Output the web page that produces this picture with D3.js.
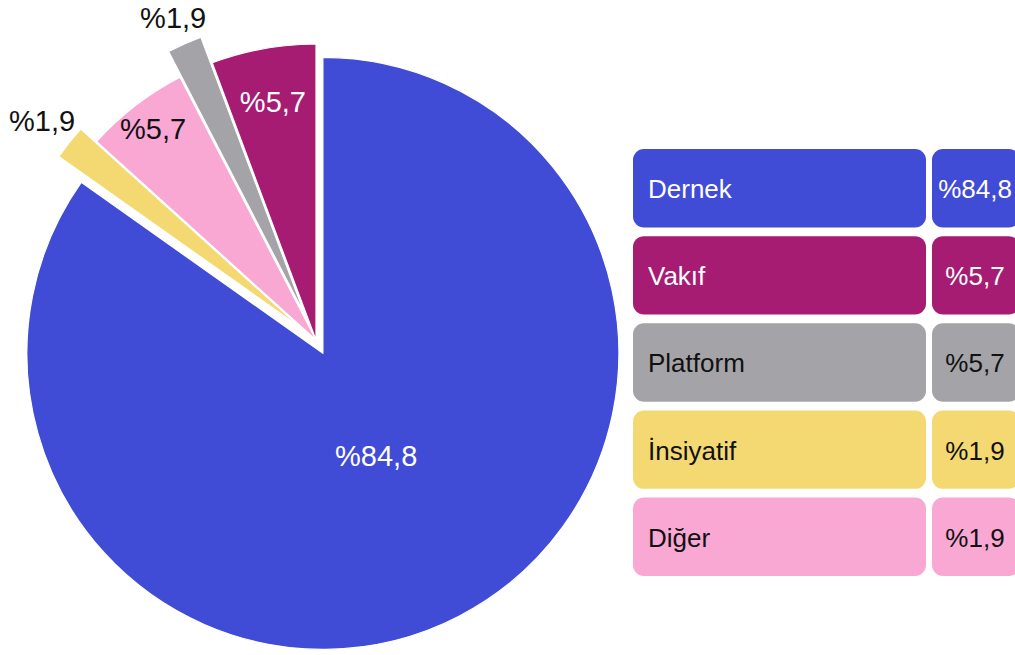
<!DOCTYPE html>
<html>
<head>
<meta charset="utf-8">
<script src="https://cdn.jsdelivr.net/npm/d3@7"></script>
<style>
  body { margin: 0; background: #fff; }
  svg { display: block; font-family: 'Liberation Sans', Arial, Helvetica, sans-serif; }
</style>
</head>
<body>
<svg width="1015" height="655"></svg>
<script>

// legend rows (top to bottom)
const categories = ['Dernek', 'Vakıf', 'Platform', 'İnsiyatif', 'Diğer']
const legendValues = ['%84,8', '%5,7', '%5,7', '%1,9', '%1,9']
const colors = ['#404bd6', '#a61c73', '#a4a4a8', '#f4d972', '#f9a8d4']
const darkText = ['#fff', '#fff', '#111', '#111', '#111']

// pie slices, clockwise from 12 o'clock
const sliceNames = ['Dernek', 'İnsiyatif', 'Diğer', 'Platform', 'Vakıf']
const sliceValues = [84.8, 1.9, 5.7, 1.9, 5.7]
const sliceLabels = ['%84,8', '%1,9', '%5,7', '%1,9', '%5,7']

// layout stuff
const center = [316, 340]
const radius = 296
const explode = { 'Dernek': 15, 'İnsiyatif': 20, 'Diğer': 0, 'Platform': 28, 'Vakıf': 0 }
const labelRadius = { 'Dernek': 116, 'İnsiyatif': 331, 'Diğer': 267, 'Platform': 324, 'Vakıf': 242 }

let svg = d3.select('svg')

let color = d3.scaleOrdinal().domain(categories).range(colors)
let textColor = d3.scaleOrdinal().domain(categories).range(darkText)

let pie = d3.pie().sort(null).value(d => d.value)
let arc = d3.arc().innerRadius(0).outerRadius(radius)

let slices = pie(sliceNames.map((n, i) => ({ name: n, value: sliceValues[i], label: sliceLabels[i] })))

function dir(d) {
  let a = (d.startAngle + d.endAngle) / 2
  return [Math.sin(a), -Math.cos(a)]
}

let g = svg.append('g').attr('transform', `translate(${center[0]},${center[1]})`)

let slice = g.selectAll('g.slice')
  .data(slices)
  .enter().append('g')
  .attr('class', 'slice')
  .attr('transform', d => {
    let [x, y] = dir(d)
    let e = explode[d.data.name]
    return `translate(${x * e},${y * e})`
  })

slice.append('path')
  .attr('d', arc)
  .attr('fill', d => color(d.data.name))
  .attr('stroke', '#fff')
  .attr('stroke-width', 1.2)
  .attr('stroke-linejoin', 'round')

slice.append('text')
  .attr('x', d => dir(d)[0] * labelRadius[d.data.name])
  .attr('y', d => dir(d)[1] * labelRadius[d.data.name])
  .attr('dy', '0.35em')
  .attr('text-anchor', 'middle')
  .attr('font-size', 29)
  .attr('fill', d => {
    let r = labelRadius[d.data.name]
    if (r > radius) return '#111'
    return textColor(d.data.name)
  })
  .text(d => d.data.label)

// legend
let rowY = d3.scaleBand().domain(categories).range([149, 576]).paddingInner(0.1)

let row = svg.append('g')
  .selectAll('g')
  .data(categories)
  .enter().append('g')
  .attr('transform', d => `translate(0,${rowY(d)})`)

row.append('rect')
  .attr('x', 633).attr('width', 293)
  .attr('height', rowY.bandwidth())
  .attr('rx', 11)
  .attr('fill', d => color(d))

row.append('rect')
  .attr('x', 932).attr('width', 88)
  .attr('height', rowY.bandwidth())
  .attr('rx', 11)
  .attr('fill', d => color(d))

row.append('text')
  .attr('x', 648)
  .attr('y', rowY.bandwidth() / 2 + 10)
  .attr('font-size', 26)
  .attr('fill', d => textColor(d))
  .text(d => d)

row.append('text')
  .attr('x', 975)
  .attr('y', rowY.bandwidth() / 2 + 10)
  .attr('text-anchor', 'middle')
  .attr('font-size', 26)
  .attr('fill', d => textColor(d))
  .text((d, i) => legendValues[i])

</script>
</body>
</html>
